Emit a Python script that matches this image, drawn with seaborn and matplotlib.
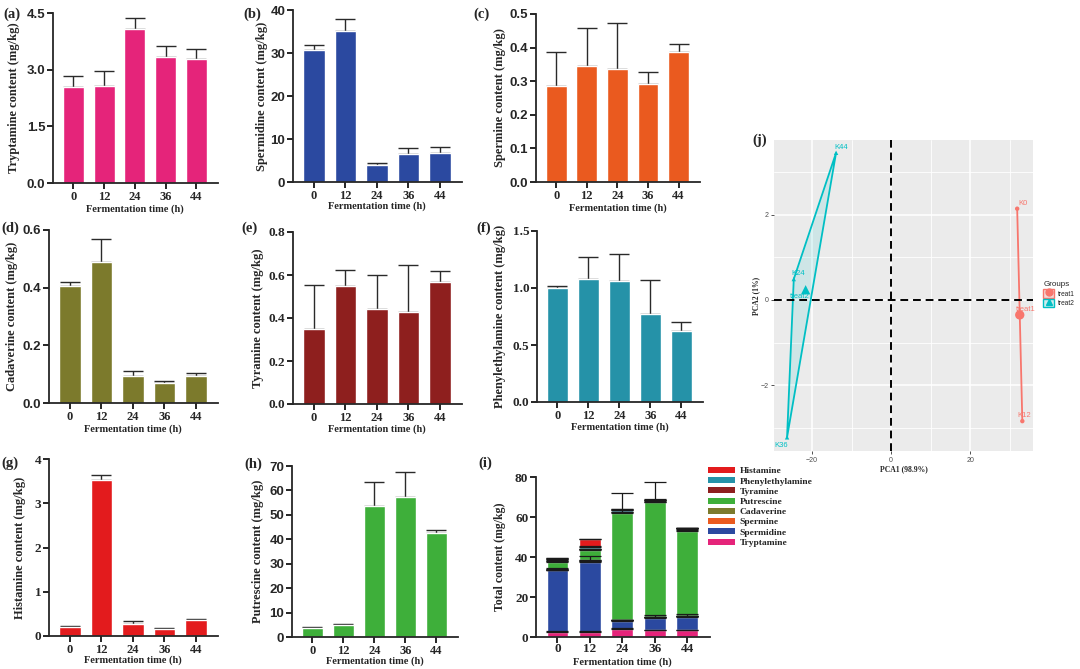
import numpy as np
import pandas as pd
import matplotlib
matplotlib.use("Agg")
import matplotlib.pyplot as plt
from matplotlib.patches import Patch, Polygon
from matplotlib.lines import Line2D
import matplotlib.ticker as mticker
import seaborn as sns

# ---------------- data ----------------
times = ["0", "12", "24", "36", "44"]

tryptamine = [2.54, 2.57, 4.08, 3.33, 3.29]
tryptamine_sd = [0.29, 0.39, 0.28, 0.29, 0.25]
spermidine = [30.8, 35.1, 4.0, 6.4, 6.7]
spermidine_sd = [1.0, 2.7, 0.5, 1.4, 1.5]
spermine = [0.286, 0.346, 0.335, 0.293, 0.386]
spermine_sd = [0.102, 0.113, 0.139, 0.035, 0.026]
cadaverine = [0.407, 0.488, 0.094, 0.068, 0.094]
cadaverine_sd = [0.013, 0.080, 0.018, 0.010, 0.009]
tyramine = [0.351, 0.548, 0.441, 0.430, 0.567]
tyramine_sd = [0.203, 0.076, 0.157, 0.216, 0.051]
phenylethylamine = [1.00, 1.08, 1.06, 0.776, 0.621]
phenylethylamine_sd = [0.02, 0.19, 0.24, 0.29, 0.08]
histamine = [0.21, 3.53, 0.26, 0.16, 0.36]
histamine_sd = [0.02, 0.11, 0.09, 0.02, 0.025]
putrescine = [3.7, 5.1, 53.5, 57.2, 42.7]
putrescine_sd = [0.4, 0.4, 10.1, 10.2, 1.3]

pca_labels = ["K0", "K12", "K24", "K36", "K44"]
pca1 = [31.9, 33.2, -24.6, -26.3, -13.9]
pca2 = [2.14, -2.84, 0.49, -3.22, 3.45]
pca_groups = ["treat1", "treat1", "treat2", "treat2", "treat2"]

# colours
C_TRY = "#E5247A"
C_SPD = "#2B49A0"
C_SPM = "#EA5A1F"
C_CAD = "#7C7A2C"
C_TYR = "#8E1F1E"
C_PHE = "#2592A8"
C_HIS = "#E31B1D"
C_PUT = "#3EAF3A"
C_T1 = "#F8766D"
C_T2 = "#00BFC4"

sns.set_style("ticks")
SERIF = ["Liberation Serif", "DejaVu Serif"]
SANS = ["Liberation Sans", "DejaVu Sans"]
plt.rcParams["font.family"] = SERIF
plt.rcParams["axes.linewidth"] = 1.1

W, H = 1080, 669
fig = plt.figure(figsize=(W / 100, H / 100), dpi=100)


def rect(l, t, r, b):
    return [l / W, 1 - b / H, (r - l) / W, (b - t) / H]


XLIM = (-0.66, 4.7)

panels = [
    # label, rect, values, sd, color, ylabel, ymax, step, fmt, tickfont, lab pos, ylab offset, xlab offset
    ("(a)", (53, 13, 218, 183), tryptamine, tryptamine_sd, C_TRY,
     "Tryptamine content (mg/kg)", 4.5, 1.5, "{:.1f}", "sans", (12, 14), 39, 21),
    ("(b)", (293, 10, 462, 182), spermidine, spermidine_sd, C_SPD,
     "Spermidine content (mg/kg)", 40, 10, "{:.0f}", "sans", (252, 14), 31, 19),
    ("(c)", (536, 14, 700, 182), spermine, spermine_sd, C_SPM,
     "Spermine content (mg/kg)", 0.5, 0.1, "{:.1f}", "sans", (482, 14), 36, 21),
    ("(d)", (49, 230, 218, 403), cadaverine, cadaverine_sd, C_CAD,
     "Cadaverine content (mg/kg)", 0.6, 0.2, "{:.1f}", "sans", (10, 228), 37, 21),
    ("(e)", (293, 232, 462, 404), tyramine, tyramine_sd, C_TYR,
     "Tyramine content (mg/kg)", 0.8, 0.2, "{:.1f}", "serif", (250, 228), 35, 20),
    ("(f)", (537, 231, 703, 402), phenylethylamine, phenylethylamine_sd, C_PHE,
     "Phenylethylamine content (mg/kg)", 1.5, 0.5, "{:.1f}", "serif", (484, 228), 37, 20),
    ("(g)", (49, 459, 218, 636), histamine, histamine_sd, C_HIS,
     "Histamine content (mg/kg)", 4, 1, "{:.0f}", "serif", (10, 463), 29, 19),
    ("(h)", (292, 466, 458, 637), putrescine, putrescine_sd, C_PUT,
     "Putrescine content (mg/kg)", 70, 10, "{:.0f}", "sans", (253, 464), 34, 19),
]


def style_axis(ax, ymax, step, fmt, tickfont, ylabel, yoff, xoff, rpx, ylsize=9, xlsize=7.5):
    ax.set_xlim(*XLIM)
    ax.set_ylim(0, ymax)
    ticks = np.arange(0, ymax + step / 2, step)
    ax.yaxis.set_major_locator(mticker.FixedLocator(ticks))
    ax.yaxis.set_major_formatter(mticker.FixedFormatter([fmt.format(t) for t in ticks]))
    sns.despine(ax=ax)
    ax.spines["left"].set_linewidth(1.3)
    ax.spines["bottom"].set_linewidth(1.3)
    ax.tick_params(axis="both", direction="out", length=4, width=1.2, color="black")
    for lab in ax.get_yticklabels():
        lab.set_family(SANS if tickfont == "sans" else SERIF)
        lab.set_fontweight("bold")
        lab.set_fontsize(9.5)
    for lab in ax.get_xticklabels():
        lab.set_family(SERIF)
        lab.set_fontweight("bold")
        lab.set_fontsize(9)
    ax.tick_params(axis="x", pad=1.5)
    ax.tick_params(axis="y", pad=1.5)
    wpx = rpx[2] - rpx[0]
    hpx = rpx[3] - rpx[1]
    ax.set_ylabel(ylabel, fontsize=ylsize, fontweight="bold", family=SERIF)
    ax.yaxis.set_label_coords(-(yoff - 6) / wpx, 0.5)
    ax.set_xlabel("Fermentation time (h)", fontsize=xlsize, fontweight="bold", family=SERIF)
    xc = (2 - XLIM[0]) / (XLIM[1] - XLIM[0])
    ax.xaxis.set_label_coords(xc, -xoff / hpx)


for (lab, rp, vals, sd, col, ylabel, ymax, step, fmt, tf, lpos, yoff, xoff) in panels:
    ax = fig.add_axes(rect(*rp))
    df = pd.DataFrame({"time": times, "value": vals})
    ax.errorbar(range(len(times)), vals, yerr=[np.zeros(len(vals)), sd], fmt="none",
                ecolor="#2a2a2a", elinewidth=1.0, capsize=7.5, capthick=1.0, zorder=1)
    sns.barplot(data=df, x="time", y="value", color=col, width=0.68, errorbar=None,
                saturation=1, ax=ax, zorder=2)
    style_axis(ax, ymax, step, fmt, tf, ylabel, yoff, xoff, rp)
    fig.text(lpos[0] / W, 1 - lpos[1] / H, lab, fontsize=10.5, fontweight="bold",
             family=SERIF, ha="center", va="center")

# ---------------- (i) stacked ----------------
rp_i = (536, 477, 710, 637)
ax = fig.add_axes(rect(*rp_i))
comp_names = ["Tryptamine", "Spermidine", "Spermine", "Cadaverine", "Putrescine",
              "Tyramine", "Phenylethylamine", "Histamine"]
comp_vals = [tryptamine, spermidine, spermine, cadaverine, putrescine,
             tyramine, phenylethylamine, histamine]
comp_sd = [tryptamine_sd, spermidine_sd, spermine_sd, cadaverine_sd, putrescine_sd,
           tyramine_sd, phenylethylamine_sd, histamine_sd]
comp_cols = [C_TRY, C_SPD, C_SPM, C_CAD, C_PUT, C_TYR, C_PHE, C_HIS]
cum = np.cumsum(np.array(comp_vals), axis=0)
for k in range(len(comp_names) - 1, -1, -1):
    dfk = pd.DataFrame({"time": times, "value": cum[k]})
    sns.barplot(data=dfk, x="time", y="value", color=comp_cols[k], width=0.67,
                errorbar=None, saturation=1, ax=ax, zorder=2)
for k in range(len(comp_names)):
    ax.errorbar(range(len(times)), cum[k], yerr=[np.zeros(len(times)), comp_sd[k]],
                fmt="none", ecolor="#1a1a1a", elinewidth=0.9, capsize=8, capthick=0.9,
                zorder=3)
style_axis(ax, 80, 20, "{:.0f}", "serif", "Total content (mg/kg)", 36, 20, rp_i,
           ylsize=8.5, xlsize=7.6)
for lab_ in ax.get_xticklabels() + ax.get_yticklabels():
    lab_.set_fontsize(9.5)
ax.tick_params(axis="x", pad=0.5)
fig.text(485 / W, 1 - 463 / H, "(i)", fontsize=10.5, fontweight="bold",
         family=SERIF, ha="center", va="center")
handles = [Patch(facecolor=comp_cols[k], edgecolor="none") for k in range(7, -1, -1)]
labels = [comp_names[k] for k in range(7, -1, -1)]
fig.legend(handles, labels, loc="upper left", bbox_to_anchor=(708 / W, 1 - 467 / H),
           frameon=False, prop={"family": SERIF, "weight": "bold", "size": 6.8},
           handlelength=2.9, handleheight=0.6, labelspacing=0.2, handletextpad=0.45,
           borderaxespad=0, borderpad=0)

# ---------------- (j) PCA ----------------
rp_j = (774, 140, 1033, 451)
axj = fig.add_axes(rect(*rp_j))
pdf = pd.DataFrame({"PC1": pca1, "PC2": pca2, "Group": pca_groups, "label": pca_labels})
axj.set_facecolor("#EBEBEB")
axj.set_xlim(-29.6, 35.9)
axj.set_ylim(-3.54, 3.75)
axj.xaxis.set_major_locator(mticker.FixedLocator([-20, 0, 20]))
axj.xaxis.set_minor_locator(mticker.FixedLocator([-30, -10, 10, 30]))
axj.yaxis.set_major_locator(mticker.FixedLocator([-2, 0, 2]))
axj.yaxis.set_minor_locator(mticker.FixedLocator([-3, -1, 1, 3]))
axj.grid(which="major", color="white", linewidth=1.1)
axj.grid(which="minor", color="white", linewidth=0.6)
axj.set_axisbelow(True)
for s in axj.spines.values():
    s.set_visible(False)
axj.tick_params(axis="both", which="major", length=2.5, width=0.6, color="#333333",
                labelsize=5, labelcolor="#4D4D4D", pad=1.5)
axj.tick_params(axis="both", which="minor", length=0)
for lab in axj.get_xticklabels() + axj.get_yticklabels():
    lab.set_family(SANS)

pal = {"treat1": C_T1, "treat2": C_T2}
# hulls
g2 = pdf[pdf.Group == "treat2"]
hull2 = g2.loc[g2.label.isin(["K44", "K24", "K36"]), ["PC1", "PC2"]].values
axj.add_patch(Polygon(hull2, closed=True, facecolor=C_T2, alpha=0.12, edgecolor="none",
                      zorder=2))
axj.add_patch(Polygon(hull2, closed=True, facecolor="none", edgecolor=C_T2, lw=1.3,
                      zorder=3))
g1 = pdf[pdf.Group == "treat1"]
axj.plot(g1.PC1, g1.PC2, color=C_T1, lw=1.3, zorder=3)

axj.axvline(0, color="black", ls=(0, (4, 2.5)), lw=1.4, zorder=4)
axj.axhline(0, color="black", ls=(0, (4, 2.5)), lw=1.4, zorder=4)

sns.scatterplot(data=pdf, x="PC1", y="PC2", hue="Group", style="Group",
                markers={"treat1": "o", "treat2": "^"}, palette=pal, s=10,
                edgecolor="none", legend=False, ax=axj, zorder=5)
cent = pdf.groupby("Group")[["PC1", "PC2"]].mean().reset_index()
sns.scatterplot(data=cent, x="PC1", y="PC2", hue="Group", style="Group",
                markers={"treat1": "o", "treat2": "^"}, palette=pal, s=45,
                edgecolor="none", legend=False, ax=axj, zorder=5)

offsets = {"K0": (4, 4), "K12": (1, 4), "K24": (3, 4), "K36": (-4, -6), "K44": (4, 4)}
for _, r in pdf.iterrows():
    axj.annotate(r.label, (r.PC1, r.PC2), xytext=offsets[r.label], textcoords="offset points",
                 ha="center", va="center", fontsize=5.5, color=pal[r.Group], family=SANS,
                 zorder=6)
cent_off = {"treat1": (4, 4), "treat2": (-4, -5)}
for _, r in cent.iterrows():
    axj.annotate(r.Group, (r.PC1, r.PC2), xytext=cent_off[r.Group], textcoords="offset points",
                 ha="center", va="center", fontsize=5.5, color=pal[r.Group], family=SANS,
                 zorder=6)

axj.set_xlabel("PCA1 (98.9%)", fontsize=5.5, fontweight="bold", family=SERIF, labelpad=1)
axj.set_ylabel("PCA2 (1%)", fontsize=5.5, fontweight="bold", family=SERIF, labelpad=0)

lh = [(Patch(facecolor="#F3D8D6", edgecolor=C_T1, lw=1.0),
       Line2D([], [], marker="o", color=C_T1, ls="none", ms=5)),
      (Patch(facecolor="#CDEDEE", edgecolor=C_T2, lw=1.0),
       Line2D([], [], marker="^", color=C_T2, ls="none", ms=5))]
leg = axj.legend(lh, ["treat1", "treat2"], title="Groups", loc="upper left",
                 bbox_to_anchor=(1.03, 0.555), frameon=False,
                 prop={"family": SANS, "size": 4.8}, handlelength=1.6, handleheight=1.6,
                 handletextpad=0.5, labelspacing=0.15, borderaxespad=0)
leg.get_title().set_fontsize(5.8)
leg.get_title().set_family(SANS)
leg._legend_box.align = "left"

fig.text(760 / W, 1 - 140 / H, "(j)", fontsize=10.5, fontweight="bold", family=SERIF,
         ha="center", va="center")

fig.savefig("out.png", dpi=100, facecolor="white")
